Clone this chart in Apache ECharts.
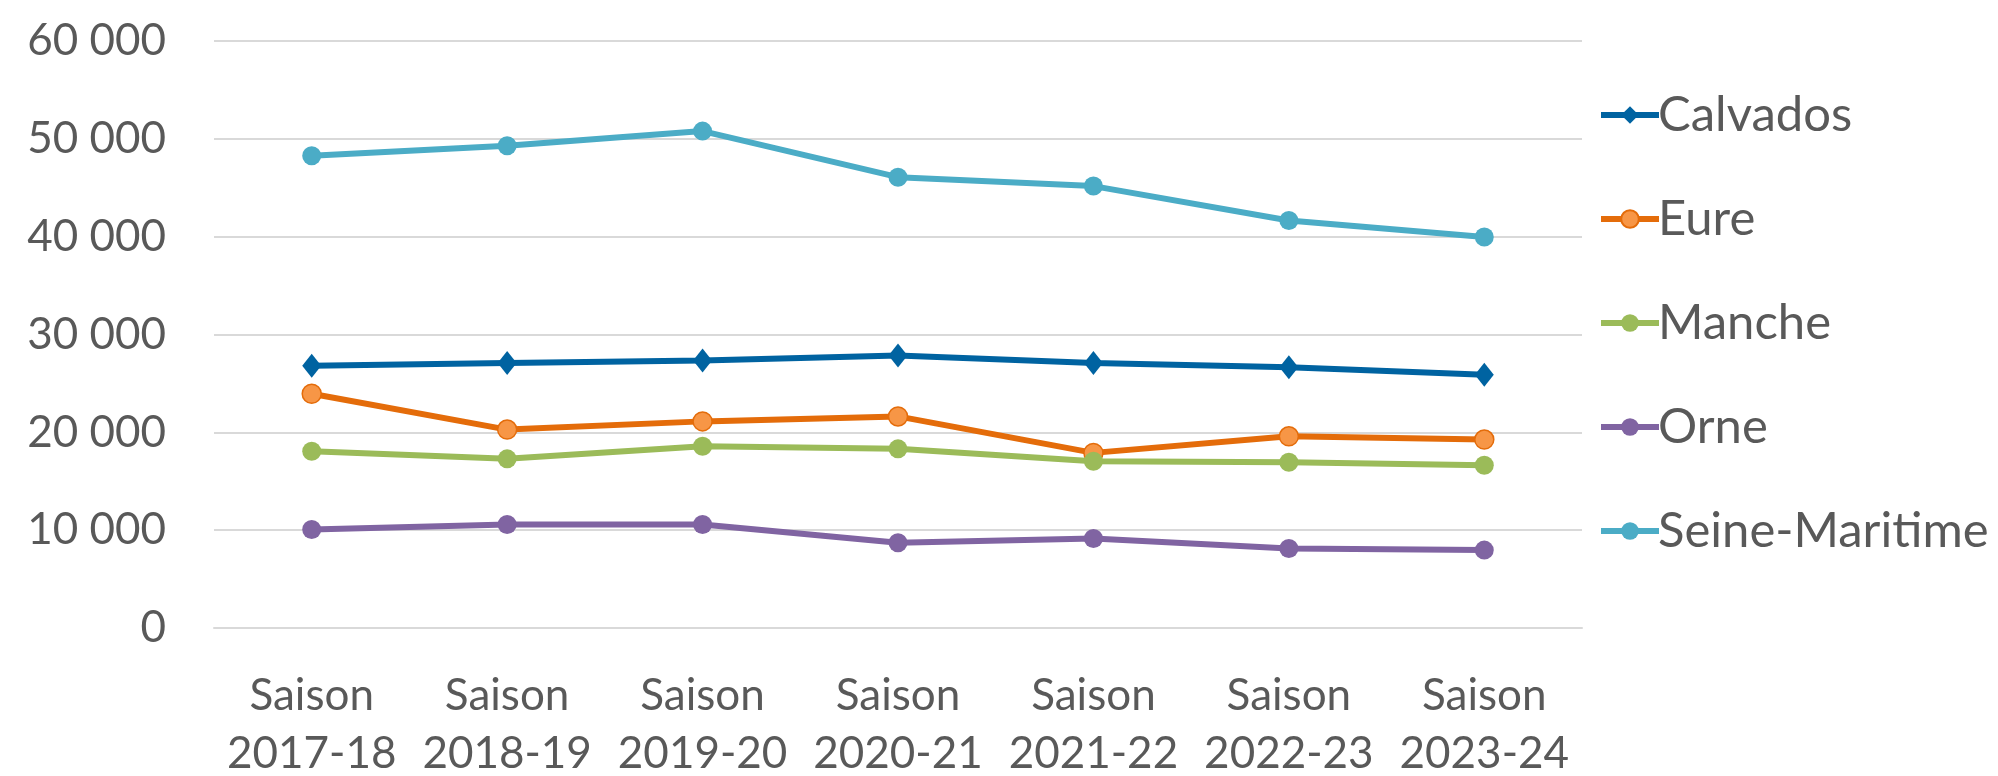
<!DOCTYPE html>
<html>
<head>
<meta charset="utf-8">
<script src="https://cdn.jsdelivr.net/npm/echarts@6/dist/echarts.min.js"></script>
<style>
	html, body { margin:0; padding:0; background:#fff; }
	#chart { width:1998px; height:776px; }
</style>
</head>
<body>
<div id="chart"></div>
<script>
// seasons on the x axis
var seasons = ['Saison 2017-18', 'Saison 2018-19', 'Saison 2019-20', 'Saison 2020-21', 'Saison 2021-22', 'Saison 2022-23', 'Saison 2023-24'];

// values per department
var calvados = [26810, 27080, 27350, 27860, 27080, 26660, 25880];
var eure = [23950, 20280, 21120, 21630, 17900, 19590, 19260];
var manche = [18060, 17290, 18570, 18310, 17040, 16940, 16630];
var orne = [10070, 10580, 10580, 8710, 9150, 8130, 7960];
var seineMaritime = [48270, 49290, 50790, 46080, 45170, 41660, 39970];

var yTicks = [0, 10000, 20000, 30000, 40000, 50000, 60000];

var fontName = 'Lato';
var textColor = '#595959';

function makeSeries(name, data, color, symbol, fill){
	return {
		name: name,
		type: 'line',
		data: data,
		symbol: symbol,
		symbolSize: symbol == 'diamond' ? [19, 24] : 19,
		lineStyle: { color: color, width: 6 },
		itemStyle: { color: fill || color, borderColor: color, borderWidth: fill ? 1.5 : 0 },
		emphasis: { disabled: true }
	};
}

var chart = echarts.init(document.getElementById('chart'));

var option = {
	animation: false,
	grid: { left: 214, right: 416, top: 41, bottom: 148, outerBoundsMode: 'none' },
	legend: {
		orient: 'vertical',
		left: 1593,
		top: 85,
		itemWidth: 58,
		itemHeight: 22,
		itemGap: 54,
		lineStyle: { width: 6 },
		textStyle: { fontFamily: fontName, fontSize: 49, color: textColor, lineHeight: 50, padding: [0, 0, 0, -6] },
		data: ['Calvados', 'Eure', 'Manche', 'Orne', 'Seine-Maritime']
	},
	xAxis: {
		type: 'category',
		data: seasons,
		boundaryGap: true,
		axisLine: { lineStyle: { color: '#D9D9D9', width: 2 } },
		axisTick: { show: false },
		axisLabel: {
			interval: 0,
			margin: 39,
			fontFamily: fontName,
			fontSize: 44,
			lineHeight: 58,
			color: textColor,
			formatter: function(v){ return v.replace(' ', '\n'); }
		}
	},
	yAxis: {
		type: 'value',
		min: yTicks[0],
		max: yTicks[yTicks.length - 1],
		interval: 10000,
		axisLine: { show: false },
		axisTick: { show: false },
		splitLine: { lineStyle: { color: '#D9D9D9', width: 2 } },
		axisLabel: {
			margin: 48,
			fontFamily: fontName,
			fontSize: 44,
			color: textColor,
			formatter: function(v){
				return String(v).replace(/\B(?=(\d{3})+(?!\d))/g, ' ');
			}
		}
	},
	series: [
		makeSeries('Calvados', calvados, '#0063A1', 'diamond'),
		makeSeries('Eure', eure, '#E46C0A', 'circle', '#F79646'),
		makeSeries('Manche', manche, '#9BBB59', 'circle'),
		makeSeries('Orne', orne, '#8064A2', 'circle'),
		makeSeries('Seine-Maritime', seineMaritime, '#4BACC6', 'circle')
	]
};

chart.setOption(option);
</script>
</body>
</html>
